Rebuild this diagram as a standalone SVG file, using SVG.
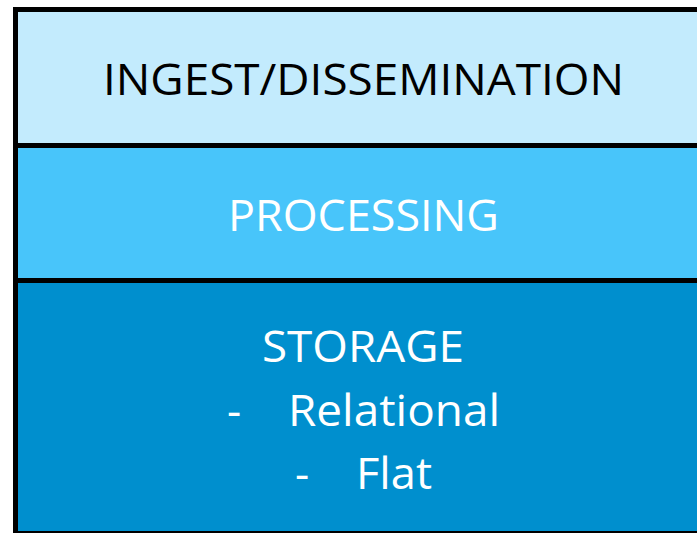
<svg xmlns="http://www.w3.org/2000/svg" width="697" height="533" viewBox="0 0 697 533">
<style>
.t{font-family:"Open Sans","Liberation Sans",sans-serif;font-size:44px;}
.k{fill:#000;}
.w{fill:#fff;}
.b{stroke:#000;stroke-width:5;}
</style>
<rect width="697" height="533" fill="#fff"/>
<g id="ingest">
<rect x="15.5" y="9.5" width="690" height="136" fill="#C3EBFD" class="b"/>
<text class="t k" x="103" y="95" textLength="521" lengthAdjust="spacingAndGlyphs">INGEST/DISSEMINATION</text>
</g>
<g id="processing">
<rect x="15.5" y="145.5" width="690" height="135" fill="#48C5FA" class="b"/>
<text class="t w" x="228" y="231" textLength="271" lengthAdjust="spacingAndGlyphs">PROCESSING</text>
</g>
<g id="storage">
<rect x="15.5" y="280.5" width="690" height="253" fill="#008FCE" class="b"/>
<text class="t w" x="262" y="362" textLength="202" lengthAdjust="spacingAndGlyphs">STORAGE</text>
<text class="t w" x="227" y="426">-</text>
<text class="t w" x="288" y="426" textLength="212" lengthAdjust="spacingAndGlyphs">Relational</text>
<text class="t w" x="295" y="489">-</text>
<text class="t w" x="356" y="489" textLength="76" lengthAdjust="spacingAndGlyphs">Flat</text>
</g>
<g id="connectors"></g>
</svg>
